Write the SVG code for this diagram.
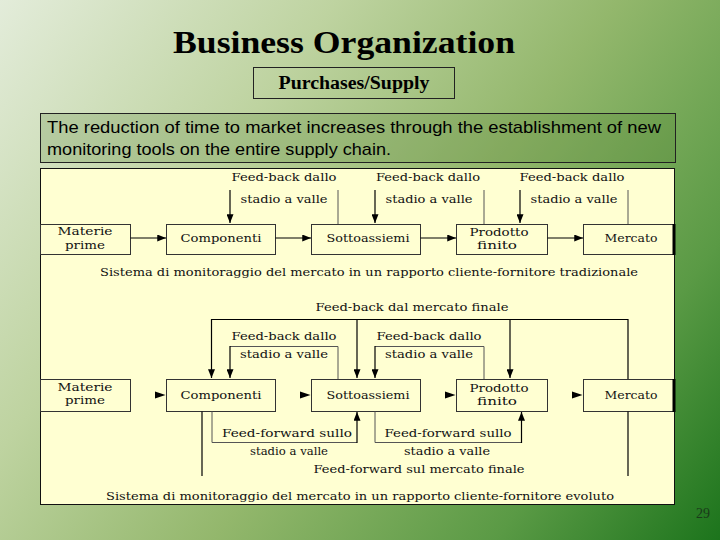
<svg xmlns="http://www.w3.org/2000/svg" width="720" height="540" viewBox="0 0 720 540">
<defs>
  <linearGradient id="bg" x1="0" y1="0" x2="720" y2="540" gradientUnits="userSpaceOnUse">
    <stop offset="0" stop-color="#e3ecda"/>
    <stop offset="0.3" stop-color="#bed3a0"/>
    <stop offset="0.55" stop-color="#93b76c"/>
    <stop offset="0.8" stop-color="#5a9a45"/>
    <stop offset="1" stop-color="#1c741c"/>
  </linearGradient>
  <marker id="ah" viewBox="0 0 10 8" refX="10" refY="4" markerWidth="9" markerHeight="7" markerUnits="userSpaceOnUse" orient="auto">
    <path d="M0,0 L10,4 L0,8 z" fill="#000"/>
  </marker>
</defs>
<style>
  .box{fill:none;stroke:#222;stroke-width:1}
  .node{fill:#ffffd2;stroke:#333;stroke-width:1}
  .nt{font-family:"DejaVu Serif","Liberation Serif",serif;font-size:11px;fill:#111;text-anchor:middle}
  .lt{font-family:"DejaVu Serif","Liberation Serif",serif;font-size:10.5px;fill:#111;text-anchor:middle}
  .cap{font-family:"DejaVu Serif","Liberation Serif",serif;font-size:11px;fill:#111;text-anchor:middle}
  .ln{fill:none;stroke:#000;stroke-width:1.2}
  .lg{fill:none;stroke:#555;stroke-width:1}
  .arr{fill:none;stroke:#000;stroke-width:1.2;marker-end:url(#ah)}
  .tri{fill:#000}
</style>
<rect x="0" y="0" width="720" height="540" fill="url(#bg)"/>

<g id="title">
  <text x="344" y="53" font-family="Liberation Serif,serif" font-weight="bold" font-size="32" text-anchor="middle" textLength="342" lengthAdjust="spacingAndGlyphs" fill="#000">Business Organization</text>
</g>
<g id="subtitle">
  <rect class="box" x="253.5" y="67.5" width="201" height="31"/>
  <text x="354" y="89" font-family="Liberation Serif,serif" font-weight="bold" font-size="18" text-anchor="middle" textLength="151" lengthAdjust="spacingAndGlyphs" fill="#000">Purchases/Supply</text>
</g>
<g id="intro">
  <rect x="40.5" y="113.5" width="635" height="49" fill="#4d7a2e" fill-opacity="0.22" stroke="#222" stroke-width="1"/>
  <text font-family="Liberation Sans,Arial,sans-serif" font-size="17" fill="#000">
    <tspan x="47" y="133" textLength="614" lengthAdjust="spacingAndGlyphs">The reduction of time to market increases through the establishment of new</tspan>
    <tspan x="47" y="155" textLength="344" lengthAdjust="spacingAndGlyphs">monitoring tools on the entire supply chain.</tspan>
  </text>
</g>

<g id="panel">
  <rect x="40.5" y="168.5" width="634" height="336" fill="#ffffd2" stroke="#111" stroke-width="1"/>
</g>

<!-- Top row nodes -->
<g id="t-materie">
  <rect class="node" x="40.5" y="224.5" width="90" height="30"/>
  <text class="nt" x="85" y="235" textLength="55" lengthAdjust="spacingAndGlyphs">Materie</text>
  <text class="nt" x="85" y="249" textLength="40" lengthAdjust="spacingAndGlyphs">prime</text>
</g>
<g id="t-componenti">
  <rect class="node" x="166.5" y="224.5" width="109" height="30"/>
  <text class="nt" x="221" y="242" textLength="81" lengthAdjust="spacingAndGlyphs">Componenti</text>
</g>
<g id="t-sottoassiemi">
  <rect class="node" x="311.5" y="224.5" width="109" height="30"/>
  <text class="nt" x="368" y="242" textLength="83" lengthAdjust="spacingAndGlyphs">Sottoassiemi</text>
</g>
<g id="t-prodotto">
  <rect class="node" x="456.5" y="224.5" width="91" height="30"/>
  <text class="nt" x="499" y="236" textLength="59" lengthAdjust="spacingAndGlyphs">Prodotto</text>
  <text class="nt" x="497" y="249" textLength="40" lengthAdjust="spacingAndGlyphs">finito</text>
</g>
<g id="t-mercato">
  <rect class="node" x="583.5" y="224.5" width="91" height="30"/>
  <line x1="674" y1="224" x2="674" y2="255" stroke="#000" stroke-width="3"/>
  <text class="nt" x="631" y="242" textLength="53" lengthAdjust="spacingAndGlyphs">Mercato</text>
</g>

<!-- Bottom row nodes -->
<g id="b-materie">
  <rect class="node" x="40.5" y="379.5" width="90" height="32"/>
  <text class="nt" x="85" y="391" textLength="55" lengthAdjust="spacingAndGlyphs">Materie</text>
  <text class="nt" x="85" y="404" textLength="40" lengthAdjust="spacingAndGlyphs">prime</text>
</g>
<g id="b-componenti">
  <rect class="node" x="166.5" y="379.5" width="109" height="32"/>
  <text class="nt" x="221" y="399" textLength="81" lengthAdjust="spacingAndGlyphs">Componenti</text>
</g>
<g id="b-sottoassiemi">
  <rect class="node" x="311.5" y="379.5" width="109" height="32"/>
  <text class="nt" x="368" y="399" textLength="83" lengthAdjust="spacingAndGlyphs">Sottoassiemi</text>
</g>
<g id="b-prodotto">
  <rect class="node" x="456.5" y="379.5" width="91" height="32"/>
  <text class="nt" x="499" y="392" textLength="59" lengthAdjust="spacingAndGlyphs">Prodotto</text>
  <text class="nt" x="497" y="405" textLength="40" lengthAdjust="spacingAndGlyphs">finito</text>
</g>
<g id="b-mercato">
  <rect class="node" x="583.5" y="379.5" width="91" height="32"/>
  <line x1="674" y1="379" x2="674" y2="412" stroke="#000" stroke-width="3"/>
  <text class="nt" x="631" y="399" textLength="53" lengthAdjust="spacingAndGlyphs">Mercato</text>
</g>

<g id="connectors">
  <!-- top row flow -->
  <line class="arr" x1="130.5" y1="238" x2="166" y2="238"/>
  <line class="arr" x1="275.5" y1="238" x2="311" y2="238"/>
  <line class="arr" x1="420.5" y1="238" x2="456" y2="238"/>
  <line class="arr" x1="547.5" y1="238" x2="583" y2="238"/>
  <!-- top feed-back arrows -->
  <line class="arr" x1="230" y1="190" x2="230" y2="223"/>
  <line class="lg" x1="338" y1="190" x2="338" y2="224"/>
  <line class="arr" x1="375" y1="190" x2="375" y2="223"/>
  <line class="lg" x1="484" y1="190" x2="484" y2="224"/>
  <line class="arr" x1="520" y1="190" x2="520" y2="223"/>
  <line class="lg" x1="628" y1="190" x2="628" y2="224"/>

  <!-- bottom row flow arrowheads -->
  <path class="tri" d="M155,391.5 L165.5,395 L155,398.5 z"/>
  <path class="tri" d="M300,391.5 L310.5,395 L300,398.5 z"/>
  <path class="tri" d="M445,391.5 L455.5,395 L445,398.5 z"/>
  <path class="tri" d="M572,391.5 L582.5,395 L572,398.5 z"/>

  <!-- feed-back dal mercato finale -->
  <path class="ln" d="M628,379 L628,319.5 L211.5,319.5"/>
  <line class="arr" x1="211.5" y1="319" x2="211.5" y2="378"/>
  <line class="arr" x1="357" y1="319.5" x2="357" y2="378"/>
  <line class="arr" x1="510" y1="319.5" x2="510" y2="378"/>

  <!-- inner feed-back -->
  <path class="lg" d="M338,379 L338,346.5 L230,346.5"/>
  <line class="arr" x1="230" y1="346" x2="230" y2="378"/>
  <path class="lg" d="M484,379 L484,346.5 L375,346.5"/>
  <line class="arr" x1="375" y1="346" x2="375" y2="378"/>

  <!-- inner feed-forward -->
  <path class="lg" d="M212,411.5 L212,442.5 L357,442.5"/>
  <line class="arr" x1="357" y1="443" x2="357" y2="412"/>
  <path class="lg" d="M375,411.5 L375,442.5 L521.5,442.5"/>
  <line class="arr" x1="521.5" y1="443" x2="521.5" y2="412"/>

  <!-- feed-forward sul mercato finale -->
  <line class="ln" x1="202" y1="411.5" x2="202" y2="476"/>
  <line class="ln" x1="628" y1="411.5" x2="628" y2="476"/>
</g>

<g id="labels">
  <text class="lt" x="284" y="181" textLength="105" lengthAdjust="spacingAndGlyphs">Feed-back dallo</text>
  <text class="lt" x="284" y="203" textLength="87" lengthAdjust="spacingAndGlyphs">stadio a valle</text>
  <text class="lt" x="428" y="181" textLength="104" lengthAdjust="spacingAndGlyphs">Feed-back dallo</text>
  <text class="lt" x="429" y="203" textLength="87" lengthAdjust="spacingAndGlyphs">stadio a valle</text>
  <text class="lt" x="572" y="181" textLength="105" lengthAdjust="spacingAndGlyphs">Feed-back dallo</text>
  <text class="lt" x="574" y="203" textLength="87" lengthAdjust="spacingAndGlyphs">stadio a valle</text>
  <text class="cap" x="369" y="276" textLength="538" lengthAdjust="spacingAndGlyphs">Sistema di monitoraggio del mercato in un rapporto cliente-fornitore tradizionale</text>

  <text class="lt" x="412" y="311" textLength="193" lengthAdjust="spacingAndGlyphs">Feed-back dal mercato finale</text>
  <text class="lt" x="284" y="340" textLength="105" lengthAdjust="spacingAndGlyphs">Feed-back dallo</text>
  <text class="lt" x="284" y="358" textLength="88" lengthAdjust="spacingAndGlyphs">stadio a valle</text>
  <text class="lt" x="429" y="340" textLength="105" lengthAdjust="spacingAndGlyphs">Feed-back dallo</text>
  <text class="lt" x="429" y="358" textLength="88" lengthAdjust="spacingAndGlyphs">stadio a valle</text>

  <text class="lt" x="287" y="437" textLength="130" lengthAdjust="spacingAndGlyphs">Feed-forward sullo</text>
  <text class="lt" x="289" y="455" textLength="78" lengthAdjust="spacingAndGlyphs">stadio a valle</text>
  <text class="lt" x="448" y="437" textLength="127" lengthAdjust="spacingAndGlyphs">Feed-forward sullo</text>
  <text class="lt" x="447" y="455" textLength="86" lengthAdjust="spacingAndGlyphs">stadio a valle</text>
  <text class="lt" x="419" y="473" textLength="211" lengthAdjust="spacingAndGlyphs">Feed-forward sul mercato finale</text>
  <text class="cap" x="360" y="500" textLength="508" lengthAdjust="spacingAndGlyphs">Sistema di monitoraggio del mercato in un rapporto cliente-fornitore evoluto</text>
</g>

<g id="page-number">
  <text x="703" y="518" font-family="Liberation Serif,serif" font-size="14" text-anchor="middle" fill="#1a3a1a">29</text>
</g>
</svg>
